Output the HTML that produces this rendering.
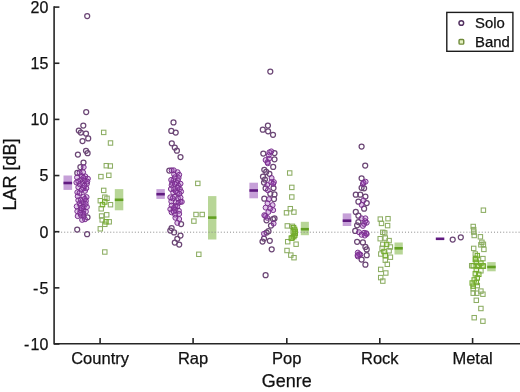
<!DOCTYPE html>
<html><head><meta charset="utf-8"><style>
html,body{margin:0;padding:0;background:#fff;width:520px;height:392px;overflow:hidden}
svg{display:block;will-change:transform;font-family:"Liberation Sans",sans-serif}
text{stroke:#111;stroke-width:0.25px}
</style></head><body><svg width="520" height="392" viewBox="0 0 520 392" font-family="Liberation Sans, sans-serif" fill="#111"><rect x="0" y="0" width="520" height="392" fill="#fff"/><rect x="63.5" y="175.5" width="8.60" height="14.40" fill="#c6a0d8"/><line x1="63.5" y1="183.0" x2="72.1" y2="183.0" stroke="#601a80" stroke-width="2.6"/><rect x="156.4" y="189.1" width="8.40" height="9.80" fill="#c6a0d8"/><line x1="156.4" y1="194.2" x2="164.8" y2="194.2" stroke="#601a80" stroke-width="2.6"/><rect x="249.4" y="182.7" width="8.60" height="15.60" fill="#c6a0d8"/><line x1="249.4" y1="190.5" x2="258.0" y2="190.5" stroke="#601a80" stroke-width="2.6"/><rect x="342.7" y="213.4" width="8.60" height="12.60" fill="#c6a0d8"/><line x1="342.7" y1="220.7" x2="351.3" y2="220.7" stroke="#601a80" stroke-width="2.6"/><line x1="435.8" y1="238.8" x2="444.3" y2="238.8" stroke="#601a80" stroke-width="2.6"/><rect x="114.8" y="189.1" width="8.50" height="21.20" fill="#b8d697"/><line x1="114.8" y1="199.8" x2="123.3" y2="199.8" stroke="#62a022" stroke-width="2.6"/><rect x="208.0" y="196.1" width="8.40" height="43.40" fill="#b8d697"/><line x1="208.0" y1="217.6" x2="216.4" y2="217.6" stroke="#62a022" stroke-width="2.6"/><rect x="300.8" y="221.8" width="8.10" height="13.40" fill="#b8d697"/><line x1="300.8" y1="229.2" x2="308.9" y2="229.2" stroke="#62a022" stroke-width="2.6"/><rect x="394.5" y="242.5" width="8.30" height="12.00" fill="#b8d697"/><line x1="394.5" y1="248.3" x2="402.8" y2="248.3" stroke="#62a022" stroke-width="2.6"/><rect x="487.2" y="262.1" width="8.50" height="9.20" fill="#b8d697"/><line x1="487.2" y1="267.0" x2="495.7" y2="267.0" stroke="#62a022" stroke-width="2.6"/><line x1="55" y1="232.2" x2="520" y2="232.2" stroke="#8a8a8a" stroke-width="1" stroke-dasharray="1 2.07"/><g fill="none" stroke="#6b4675" stroke-width="1.25"><circle cx="87.2" cy="16" r="2.5"/><circle cx="86.2" cy="112" r="2.5"/><circle cx="83.3" cy="125.5" r="2.5"/><circle cx="78.8" cy="130.6" r="2.5"/><circle cx="80.8" cy="132.6" r="2.5"/><circle cx="86" cy="133.5" r="2.5"/><circle cx="88.2" cy="138.4" r="2.5"/><circle cx="82.5" cy="141.1" r="2.5"/><circle cx="86" cy="150.8" r="2.5"/><circle cx="87.6" cy="153.2" r="2.5"/><circle cx="77.9" cy="154.6" r="2.5"/><circle cx="83.5" cy="162.5" r="2.5"/><circle cx="80.4" cy="167" r="2.5"/><circle cx="77.3" cy="172.9" r="2.5"/><circle cx="87.5" cy="217.3" r="2.5"/><circle cx="77.2" cy="229.6" r="2.5"/><circle cx="87.1" cy="234.2" r="2.5"/><circle cx="173.5" cy="122.4" r="2.5"/><circle cx="171.3" cy="130.9" r="2.5"/><circle cx="175.7" cy="132.6" r="2.5"/><circle cx="171.8" cy="143.3" r="2.5"/><circle cx="174.8" cy="147.5" r="2.5"/><circle cx="176.9" cy="150.7" r="2.5"/><circle cx="180.5" cy="157.1" r="2.5"/><circle cx="169.3" cy="170.6" r="2.5"/><circle cx="181.1" cy="224.1" r="2.5"/><circle cx="171.6" cy="228" r="2.5"/><circle cx="170.3" cy="230.5" r="2.5"/><circle cx="174.1" cy="232.4" r="2.5"/><circle cx="180.5" cy="235.6" r="2.5"/><circle cx="177.3" cy="238.8" r="2.5"/><circle cx="174.8" cy="242.6" r="2.5"/><circle cx="179.2" cy="244.5" r="2.5"/><circle cx="270.3" cy="71.5" r="2.5"/><circle cx="267.9" cy="125.5" r="2.5"/><circle cx="262.8" cy="129.7" r="2.5"/><circle cx="268.1" cy="131.3" r="2.5"/><circle cx="273" cy="134.8" r="2.5"/><circle cx="263.3" cy="153.6" r="2.5"/><circle cx="274.5" cy="153" r="2.5"/><circle cx="274.5" cy="159.3" r="2.5"/><circle cx="273.2" cy="166.9" r="2.5"/><circle cx="264.3" cy="169.8" r="2.5"/><circle cx="266.2" cy="171.9" r="2.5"/><circle cx="269.4" cy="173.8" r="2.5"/><circle cx="263" cy="176.7" r="2.5"/><circle cx="264.9" cy="179.6" r="2.5"/><circle cx="264" cy="182.5" r="2.5"/><circle cx="265.6" cy="188.3" r="2.5"/><circle cx="273.5" cy="188" r="2.5"/><circle cx="270.3" cy="193.8" r="2.5"/><circle cx="274.5" cy="194.4" r="2.5"/><circle cx="264.3" cy="198.7" r="2.5"/><circle cx="274" cy="199.1" r="2.5"/><circle cx="274.5" cy="218.4" r="2.5"/><circle cx="266.5" cy="220.3" r="2.5"/><circle cx="273" cy="219.1" r="2.5"/><circle cx="271" cy="225.5" r="2.5"/><circle cx="268.5" cy="231.2" r="2.5"/><circle cx="266.6" cy="232.5" r="2.5"/><circle cx="264" cy="238.5" r="2.5"/><circle cx="269.8" cy="240.8" r="2.5"/><circle cx="262.5" cy="241.5" r="2.5"/><circle cx="271.7" cy="249.3" r="2.5"/><circle cx="265.6" cy="275.2" r="2.5"/><circle cx="361.6" cy="146.6" r="2.5"/><circle cx="365.2" cy="165.5" r="2.5"/><circle cx="361.6" cy="178.3" r="2.5"/><circle cx="361.6" cy="187.8" r="2.5"/><circle cx="364.1" cy="188.3" r="2.5"/><circle cx="355.8" cy="194.7" r="2.5"/><circle cx="360.3" cy="194.7" r="2.5"/><circle cx="365.4" cy="196.6" r="2.5"/><circle cx="358.4" cy="201.7" r="2.5"/><circle cx="366.7" cy="203" r="2.5"/><circle cx="364.1" cy="208.7" r="2.5"/><circle cx="355.8" cy="211.9" r="2.5"/><circle cx="358.4" cy="215.7" r="2.5"/><circle cx="358.4" cy="222.1" r="2.5"/><circle cx="357.1" cy="225.3" r="2.5"/><circle cx="355.2" cy="230.9" r="2.5"/><circle cx="357.1" cy="241.8" r="2.5"/><circle cx="362.9" cy="242.4" r="2.5"/><circle cx="365.4" cy="246.9" r="2.5"/><circle cx="366.7" cy="249.4" r="2.5"/><circle cx="366.7" cy="255.2" r="2.5"/><circle cx="361.6" cy="259.6" r="2.5"/><circle cx="365.4" cy="264.7" r="2.5"/><circle cx="452.7" cy="239.6" r="2.5"/><circle cx="460.8" cy="237.3" r="2.5"/></g><g fill="rgba(155,65,185,0.3)" stroke="#7a2f8e" stroke-width="1.0"><circle cx="83.7" cy="167.2" r="2.5"/><circle cx="83.1" cy="172.3" r="2.5"/><circle cx="77" cy="177.4" r="2.5"/><circle cx="81.2" cy="179.6" r="2.5"/><circle cx="85.3" cy="176.4" r="2.5"/><circle cx="87.9" cy="178.7" r="2.5"/><circle cx="76.4" cy="182.5" r="2.5"/><circle cx="82.8" cy="183.1" r="2.5"/><circle cx="86.9" cy="183.8" r="2.5"/><circle cx="78.3" cy="187.2" r="2.5"/><circle cx="83.4" cy="188.3" r="2.5"/><circle cx="86.3" cy="188.2" r="2.5"/><circle cx="77.3" cy="192.3" r="2.5"/><circle cx="79.5" cy="193" r="2.5"/><circle cx="77.7" cy="196.2" r="2.5"/><circle cx="83.4" cy="196.8" r="2.5"/><circle cx="86.6" cy="197.1" r="2.5"/><circle cx="78.3" cy="200.3" r="2.5"/><circle cx="85.9" cy="200.9" r="2.5"/><circle cx="76.7" cy="206.4" r="2.5"/><circle cx="80.4" cy="205.6" r="2.5"/><circle cx="83.7" cy="206.7" r="2.5"/><circle cx="86.9" cy="207" r="2.5"/><circle cx="77.3" cy="211.3" r="2.5"/><circle cx="80.5" cy="210.3" r="2.5"/><circle cx="83.4" cy="210.7" r="2.5"/><circle cx="85.9" cy="211.6" r="2.5"/><circle cx="77.7" cy="216.1" r="2.5"/><circle cx="80.8" cy="214.8" r="2.5"/><circle cx="83.7" cy="216.7" r="2.5"/><circle cx="82.1" cy="219.9" r="2.5"/><circle cx="85" cy="219.3" r="2.5"/><circle cx="171.6" cy="170.3" r="2.5"/><circle cx="173.8" cy="170.3" r="2.5"/><circle cx="177.6" cy="172.2" r="2.5"/><circle cx="174.1" cy="174.4" r="2.5"/><circle cx="179.2" cy="174.8" r="2.5"/><circle cx="174.8" cy="177.3" r="2.5"/><circle cx="178.6" cy="177.9" r="2.5"/><circle cx="173.5" cy="180.2" r="2.5"/><circle cx="177.9" cy="180.5" r="2.5"/><circle cx="172.2" cy="183" r="2.5"/><circle cx="176.7" cy="183" r="2.5"/><circle cx="180.5" cy="183.7" r="2.5"/><circle cx="171.6" cy="185.2" r="2.5"/><circle cx="174.8" cy="183.9" r="2.5"/><circle cx="178.6" cy="185.8" r="2.5"/><circle cx="170.9" cy="189" r="2.5"/><circle cx="174.1" cy="189.3" r="2.5"/><circle cx="179.9" cy="189" r="2.5"/><circle cx="181.1" cy="191.6" r="2.5"/><circle cx="173.2" cy="192.5" r="2.5"/><circle cx="177.3" cy="192.8" r="2.5"/><circle cx="170.3" cy="197.3" r="2.5"/><circle cx="174.8" cy="196.7" r="2.5"/><circle cx="177.9" cy="198.3" r="2.5"/><circle cx="180.5" cy="197.6" r="2.5"/><circle cx="171.3" cy="201.5" r="2.5"/><circle cx="175.9" cy="202.4" r="2.5"/><circle cx="180.5" cy="201.8" r="2.5"/><circle cx="178.6" cy="202.8" r="2.5"/><circle cx="181.8" cy="201.8" r="2.5"/><circle cx="171.6" cy="205.6" r="2.5"/><circle cx="175.4" cy="205.9" r="2.5"/><circle cx="177.3" cy="206.3" r="2.5"/><circle cx="170.3" cy="209.2" r="2.5"/><circle cx="175.4" cy="209.8" r="2.5"/><circle cx="178.9" cy="210.8" r="2.5"/><circle cx="171.6" cy="212.3" r="2.5"/><circle cx="175.1" cy="214.6" r="2.5"/><circle cx="179.2" cy="213.9" r="2.5"/><circle cx="175.4" cy="217.8" r="2.5"/><circle cx="179.2" cy="219" r="2.5"/><circle cx="177.3" cy="222.9" r="2.5"/><circle cx="269.4" cy="152.3" r="2.5"/><circle cx="271.3" cy="151.4" r="2.5"/><circle cx="268.8" cy="155.2" r="2.5"/><circle cx="265.6" cy="160" r="2.5"/><circle cx="269.1" cy="158.7" r="2.5"/><circle cx="267.5" cy="162.2" r="2.5"/><circle cx="267.8" cy="163.3" r="2.5"/><circle cx="271.6" cy="178" r="2.5"/><circle cx="273.9" cy="182.1" r="2.5"/><circle cx="267.2" cy="184.9" r="2.5"/><circle cx="271.3" cy="182.1" r="2.5"/><circle cx="273.2" cy="183.9" r="2.5"/><circle cx="267.8" cy="190.2" r="2.5"/><circle cx="268.9" cy="199.2" r="2.5"/><circle cx="267.5" cy="203.3" r="2.5"/><circle cx="272.6" cy="205.1" r="2.5"/><circle cx="265.6" cy="207.6" r="2.5"/><circle cx="270.3" cy="208.5" r="2.5"/><circle cx="273.2" cy="210.1" r="2.5"/><circle cx="268.4" cy="212" r="2.5"/><circle cx="264.3" cy="215.2" r="2.5"/><circle cx="267.2" cy="217.8" r="2.5"/><circle cx="265.3" cy="216" r="2.5"/><circle cx="273.6" cy="223.6" r="2.5"/><circle cx="264" cy="233.8" r="2.5"/><circle cx="365.6" cy="181.7" r="2.5"/><circle cx="362.9" cy="184" r="2.5"/><circle cx="363.5" cy="200.4" r="2.5"/><circle cx="361.6" cy="204.9" r="2.5"/><circle cx="361.6" cy="218.3" r="2.5"/><circle cx="365.4" cy="218.3" r="2.5"/><circle cx="366.7" cy="222.7" r="2.5"/><circle cx="362.9" cy="225.9" r="2.5"/><circle cx="364.1" cy="223.9" r="2.5"/><circle cx="359" cy="232.2" r="2.5"/><circle cx="364.1" cy="232.8" r="2.5"/><circle cx="366.7" cy="234.1" r="2.5"/><circle cx="361.6" cy="234.8" r="2.5"/><circle cx="357.8" cy="252.6" r="2.5"/><circle cx="360.3" cy="254.5" r="2.5"/><circle cx="357.8" cy="256.4" r="2.5"/><circle cx="365.2" cy="221.2" r="2.5"/><circle cx="366.2" cy="233.2" r="2.5"/><circle cx="364.8" cy="235.6" r="2.5"/><circle cx="359.2" cy="254.2" r="2.5"/><circle cx="357.6" cy="255.2" r="2.5"/><circle cx="363.5" cy="182.5" r="2.5"/><circle cx="84.8" cy="180.5" r="2.5"/><circle cx="81.6" cy="189.8" r="2.5"/><circle cx="81.8" cy="176.1" r="2.5"/><circle cx="79.7" cy="184.2" r="2.5"/><circle cx="85.0" cy="190.9" r="2.5"/><circle cx="84.4" cy="185.7" r="2.5"/><circle cx="83.4" cy="177.8" r="2.5"/><circle cx="79.6" cy="172.7" r="2.5"/><circle cx="78.3" cy="181.3" r="2.5"/><circle cx="87.3" cy="181.5" r="2.5"/><circle cx="83.0" cy="202.2" r="2.5"/><circle cx="83.3" cy="213.7" r="2.5"/><circle cx="81.0" cy="200.0" r="2.5"/><circle cx="81.6" cy="208.2" r="2.5"/><circle cx="80.1" cy="212.7" r="2.5"/><circle cx="79.7" cy="203.3" r="2.5"/><circle cx="84.8" cy="198.9" r="2.5"/><circle cx="85.7" cy="203.9" r="2.5"/><circle cx="171.2" cy="179.9" r="2.5"/><circle cx="172.6" cy="198.3" r="2.5"/><circle cx="179.3" cy="193.8" r="2.5"/><circle cx="173.9" cy="208.1" r="2.5"/><circle cx="175.7" cy="191.2" r="2.5"/><circle cx="177.5" cy="187.8" r="2.5"/><circle cx="173.7" cy="211.6" r="2.5"/></g><g fill="none" stroke="#8cad62" stroke-width="1.05"><rect x="101.50" y="130.20" width="4.4" height="4.4"/><rect x="108.30" y="140.80" width="4.4" height="4.4"/><rect x="104.10" y="163.50" width="4.4" height="4.4"/><rect x="108.10" y="163.80" width="4.4" height="4.4"/><rect x="98.70" y="174.40" width="4.4" height="4.4"/><rect x="106.60" y="173.10" width="4.4" height="4.4"/><rect x="101.50" y="188.20" width="4.4" height="4.4"/><rect x="102.60" y="195.00" width="4.4" height="4.4"/><rect x="104.80" y="196.10" width="4.4" height="4.4"/><rect x="98.10" y="198.50" width="4.4" height="4.4"/><rect x="108.30" y="202.50" width="4.4" height="4.4"/><rect x="99.00" y="206.60" width="4.4" height="4.4"/><rect x="104.50" y="212.60" width="4.4" height="4.4"/><rect x="99.40" y="213.80" width="4.4" height="4.4"/><rect x="100.00" y="217.70" width="4.4" height="4.4"/><rect x="107.00" y="219.60" width="4.4" height="4.4"/><rect x="102.60" y="222.10" width="4.4" height="4.4"/><rect x="98.10" y="226.60" width="4.4" height="4.4"/><rect x="102.60" y="249.80" width="4.4" height="4.4"/><rect x="195.60" y="181.20" width="4.4" height="4.4"/><rect x="193.80" y="212.30" width="4.4" height="4.4"/><rect x="200.00" y="212.30" width="4.4" height="4.4"/><rect x="191.70" y="218.90" width="4.4" height="4.4"/><rect x="196.60" y="252.10" width="4.4" height="4.4"/><rect x="287.50" y="170.80" width="4.4" height="4.4"/><rect x="289.60" y="185.20" width="4.4" height="4.4"/><rect x="289.60" y="194.80" width="4.4" height="4.4"/><rect x="288.10" y="206.50" width="4.4" height="4.4"/><rect x="284.30" y="210.60" width="4.4" height="4.4"/><rect x="291.70" y="209.90" width="4.4" height="4.4"/><rect x="285.10" y="223.70" width="4.4" height="4.4"/><rect x="290.20" y="224.10" width="4.4" height="4.4"/><rect x="285.50" y="239.50" width="4.4" height="4.4"/><rect x="293.90" y="242.00" width="4.4" height="4.4"/><rect x="284.80" y="248.30" width="4.4" height="4.4"/><rect x="288.60" y="252.90" width="4.4" height="4.4"/><rect x="291.80" y="255.50" width="4.4" height="4.4"/><rect x="378.10" y="216.90" width="4.4" height="4.4"/><rect x="385.80" y="216.50" width="4.4" height="4.4"/><rect x="379.30" y="221.20" width="4.4" height="4.4"/><rect x="385.40" y="223.40" width="4.4" height="4.4"/><rect x="380.60" y="230.10" width="4.4" height="4.4"/><rect x="382.50" y="230.70" width="4.4" height="4.4"/><rect x="378.00" y="236.50" width="4.4" height="4.4"/><rect x="383.10" y="235.90" width="4.4" height="4.4"/><rect x="386.90" y="238.40" width="4.4" height="4.4"/><rect x="380.60" y="242.20" width="4.4" height="4.4"/><rect x="388.20" y="244.80" width="4.4" height="4.4"/><rect x="379.90" y="246.10" width="4.4" height="4.4"/><rect x="386.90" y="248.60" width="4.4" height="4.4"/><rect x="378.60" y="251.80" width="4.4" height="4.4"/><rect x="388.20" y="255.00" width="4.4" height="4.4"/><rect x="383.10" y="258.00" width="4.4" height="4.4"/><rect x="385.10" y="262.10" width="4.4" height="4.4"/><rect x="378.50" y="267.20" width="4.4" height="4.4"/><rect x="383.60" y="270.80" width="4.4" height="4.4"/><rect x="378.50" y="275.40" width="4.4" height="4.4"/><rect x="380.60" y="278.90" width="4.4" height="4.4"/><rect x="481.20" y="208.00" width="4.4" height="4.4"/><rect x="471.00" y="224.30" width="4.4" height="4.4"/><rect x="471.50" y="227.40" width="4.4" height="4.4"/><rect x="471.50" y="229.90" width="4.4" height="4.4"/><rect x="472.00" y="233.30" width="4.4" height="4.4"/><rect x="478.20" y="234.60" width="4.4" height="4.4"/><rect x="479.70" y="240.10" width="4.4" height="4.4"/><rect x="478.70" y="242.60" width="4.4" height="4.4"/><rect x="481.20" y="242.10" width="4.4" height="4.4"/><rect x="471.50" y="246.20" width="4.4" height="4.4"/><rect x="481.70" y="247.20" width="4.4" height="4.4"/><rect x="473.10" y="251.80" width="4.4" height="4.4"/><rect x="480.70" y="256.40" width="4.4" height="4.4"/><rect x="469.50" y="263.50" width="4.4" height="4.4"/><rect x="478.70" y="268.60" width="4.4" height="4.4"/><rect x="475.10" y="283.40" width="4.4" height="4.4"/><rect x="471.00" y="286.40" width="4.4" height="4.4"/><rect x="471.00" y="291.00" width="4.4" height="4.4"/><rect x="474.60" y="291.00" width="4.4" height="4.4"/><rect x="478.70" y="288.90" width="4.4" height="4.4"/><rect x="480.70" y="292.00" width="4.4" height="4.4"/><rect x="474.10" y="298.10" width="4.4" height="4.4"/><rect x="478.70" y="306.30" width="4.4" height="4.4"/><rect x="472.00" y="315.50" width="4.4" height="4.4"/><rect x="480.70" y="319.00" width="4.4" height="4.4"/></g><g fill="rgba(140,200,60,0.2)" stroke="#74ac2e" stroke-width="1.05"><rect x="102.60" y="199.80" width="4.4" height="4.4"/><rect x="100.30" y="202.40" width="4.4" height="4.4"/><rect x="103.80" y="219.60" width="4.4" height="4.4"/><rect x="291.40" y="225.40" width="4.4" height="4.4"/><rect x="292.40" y="227.20" width="4.4" height="4.4"/><rect x="293.00" y="229.10" width="4.4" height="4.4"/><rect x="293.10" y="231.00" width="4.4" height="4.4"/><rect x="292.60" y="232.90" width="4.4" height="4.4"/><rect x="291.60" y="234.40" width="4.4" height="4.4"/><rect x="290.10" y="235.60" width="4.4" height="4.4"/><rect x="291.00" y="229.60" width="4.4" height="4.4"/><rect x="289.10" y="236.00" width="4.4" height="4.4"/><rect x="384.40" y="242.20" width="4.4" height="4.4"/><rect x="381.80" y="249.30" width="4.4" height="4.4"/><rect x="383.10" y="253.30" width="4.4" height="4.4"/><rect x="475.10" y="253.40" width="4.4" height="4.4"/><rect x="473.60" y="256.40" width="4.4" height="4.4"/><rect x="474.10" y="260.00" width="4.4" height="4.4"/><rect x="478.70" y="261.00" width="4.4" height="4.4"/><rect x="471.00" y="263.60" width="4.4" height="4.4"/><rect x="476.60" y="263.60" width="4.4" height="4.4"/><rect x="480.70" y="263.60" width="4.4" height="4.4"/><rect x="473.10" y="257.30" width="4.4" height="4.4"/><rect x="475.10" y="264.00" width="4.4" height="4.4"/><rect x="481.20" y="264.00" width="4.4" height="4.4"/><rect x="474.10" y="267.50" width="4.4" height="4.4"/><rect x="473.10" y="271.60" width="4.4" height="4.4"/><rect x="476.60" y="272.10" width="4.4" height="4.4"/><rect x="475.10" y="275.70" width="4.4" height="4.4"/><rect x="472.00" y="277.70" width="4.4" height="4.4"/><rect x="470.00" y="280.80" width="4.4" height="4.4"/><rect x="474.10" y="280.30" width="4.4" height="4.4"/><rect x="471.00" y="283.90" width="4.4" height="4.4"/></g><path d="M54.1 6.3 V343.8 H520" fill="none" stroke="#262626" stroke-width="1.6"/><line x1="54" y1="7.10" x2="59.4" y2="7.10" stroke="#262626" stroke-width="1.6"/><text x="48.3" y="12.90" text-anchor="end" font-size="16">20</text><line x1="54" y1="63.25" x2="59.4" y2="63.25" stroke="#262626" stroke-width="1.6"/><text x="48.3" y="69.05" text-anchor="end" font-size="16">15</text><line x1="54" y1="119.40" x2="59.4" y2="119.40" stroke="#262626" stroke-width="1.6"/><text x="48.3" y="125.20" text-anchor="end" font-size="16">10</text><line x1="54" y1="175.55" x2="59.4" y2="175.55" stroke="#262626" stroke-width="1.6"/><text x="48.3" y="181.35" text-anchor="end" font-size="16">5</text><line x1="54" y1="231.70" x2="59.4" y2="231.70" stroke="#262626" stroke-width="1.6"/><text x="48.3" y="237.50" text-anchor="end" font-size="16">0</text><line x1="54" y1="287.85" x2="59.4" y2="287.85" stroke="#262626" stroke-width="1.6"/><text x="48.3" y="293.65" text-anchor="end" font-size="16"><tspan>-</tspan><tspan dx="1.1">5</tspan></text><line x1="54" y1="344.00" x2="59.4" y2="344.00" stroke="#262626" stroke-width="1.6"/><text x="48.3" y="349.80" text-anchor="end" font-size="16"><tspan>-</tspan><tspan dx="1.1">10</tspan></text><line x1="100.1" y1="343.5" x2="100.1" y2="338" stroke="#262626" stroke-width="1.6"/><text x="100.1" y="363.8" text-anchor="middle" font-size="16.5">Country</text><line x1="193.1" y1="343.5" x2="193.1" y2="338" stroke="#262626" stroke-width="1.6"/><text x="193.1" y="363.8" text-anchor="middle" font-size="16.5">Rap</text><line x1="286.8" y1="343.5" x2="286.8" y2="338" stroke="#262626" stroke-width="1.6"/><text x="286.8" y="363.8" text-anchor="middle" font-size="16.5">Pop</text><line x1="379.8" y1="343.5" x2="379.8" y2="338" stroke="#262626" stroke-width="1.6"/><text x="379.8" y="363.8" text-anchor="middle" font-size="16.5">Rock</text><line x1="472.6" y1="343.5" x2="472.6" y2="338" stroke="#262626" stroke-width="1.6"/><text x="472.6" y="363.8" text-anchor="middle" font-size="16.5">Metal</text><text x="286.8" y="387" text-anchor="middle" font-size="18">Genre</text><text transform="translate(16.4 174.5) rotate(-90)" x="0" y="0" text-anchor="middle" font-size="18">LAR [dB]</text><rect x="446.8" y="12.4" width="66.1" height="38.9" fill="#fff" stroke="#1c1c1c" stroke-width="1.4"/><circle cx="461.3" cy="23.0" r="2.35" fill="none" stroke="#523060" stroke-width="1.45"/><rect x="459.04999999999995" y="39.449999999999996" width="4.7" height="4.7" rx="1" fill="#e4f0c0" stroke="#6f8a3a" stroke-width="1.4"/><text x="475" y="28.3" font-size="14.9">Solo</text><text x="475" y="46.6" font-size="14.9">Band</text></svg></body></html>
